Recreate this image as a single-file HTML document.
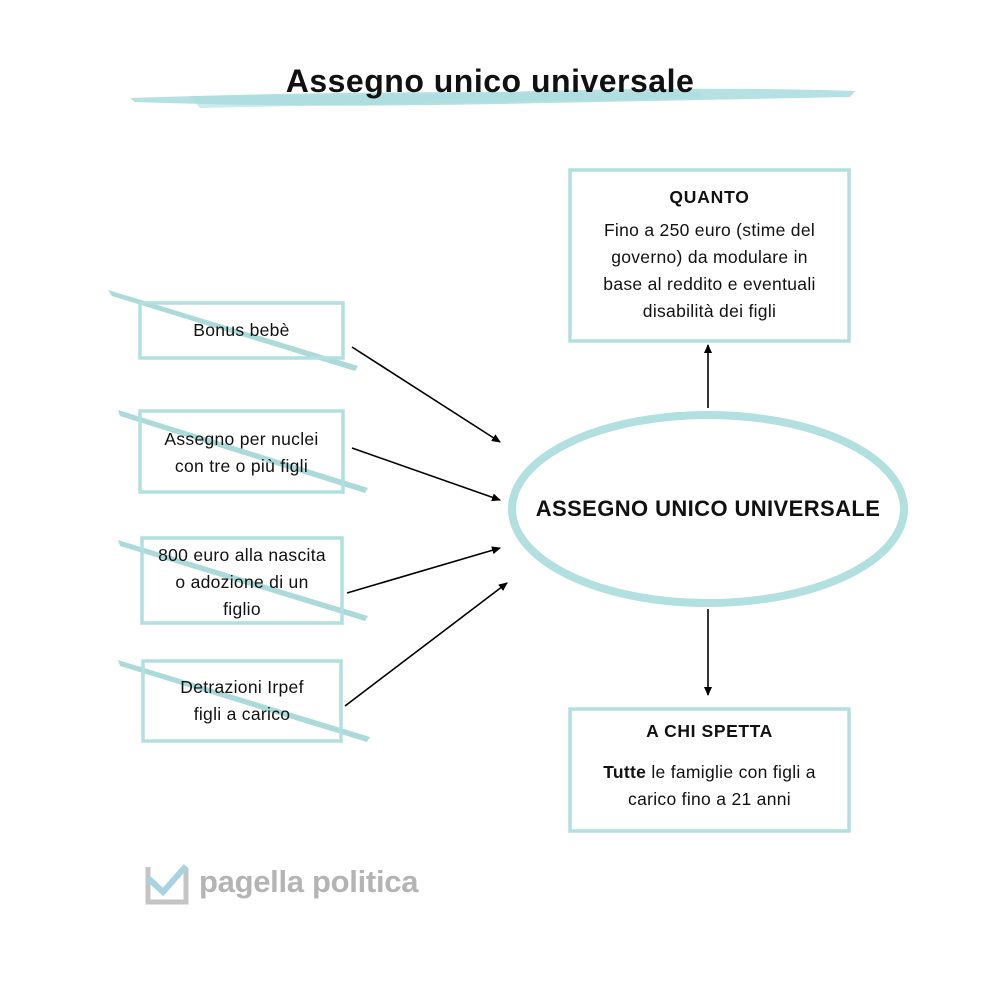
<!DOCTYPE html>
<html><head><meta charset="utf-8"><style>
body{margin:0;background:#fff;}
.w{position:relative;width:1000px;height:1004px;font-family:"Liberation Sans",sans-serif;overflow:hidden}
.t{position:absolute;color:#111;text-align:center;font-size:17.5px;line-height:27px;letter-spacing:0.3px}
</style></head><body><div class="w">
<svg width="1000" height="1004" style="position:absolute;left:0;top:0">
<defs><marker id="a" markerWidth="10" markerHeight="10" refX="8" refY="5" orient="auto" markerUnits="userSpaceOnUse"><path d="M0,1 L9,5 L0,9 z" fill="#000"/></marker></defs>
<path d="M130,98 Q300,92 500,92 Q700,86 855,91 L850,97 Q700,100 500,104 Q300,108 135,102 z" fill="#a9dcdd" opacity="0.85"/>
<path d="M190,96 L700,92 L700,98 L200,108 z" fill="#a9dcdd" opacity="0.6"/>
<g fill="#9ed3d4" opacity="0.85">
<path d="M108,290 L358,366 L355,371 L112,296 z"/>
<path d="M118,410 L368,488 L365,493 L120,416 z"/>
<path d="M118,540 L368,616 L365,621 L120,546 z"/>
<path d="M118,660 L370,737 L367,742 L120,666 z"/>
</g>
<g fill="none" stroke="#b2dfe0" stroke-width="3.5">
<rect x="140" y="303" width="203" height="55"/>
<rect x="140" y="411" width="203" height="81"/>
<rect x="142" y="538" width="200" height="85"/>
<rect x="143" y="661" width="198" height="80"/>
<rect x="570" y="170" width="279" height="171"/>
<rect x="570" y="709" width="279" height="122"/>
</g>
<ellipse cx="708" cy="509" rx="196" ry="94" fill="none" stroke="#b2dfe0" stroke-width="8"/>
<g stroke="#000" stroke-width="1.6" marker-end="url(#a)">
<line x1="352" y1="347" x2="500" y2="442"/>
<line x1="352" y1="448" x2="500" y2="500"/>
<line x1="347" y1="593" x2="500" y2="548"/>
<line x1="345" y1="706" x2="507" y2="583"/>
<line x1="708" y1="408" x2="708" y2="345"/>
<line x1="708" y1="609" x2="708" y2="695"/>
</g>
<path d="M148,867 L148,902 L186,902 L186,868" fill="none" stroke="#c4c4c4" stroke-width="5"/>
<path d="M148,878 L163,892 L186,866" fill="none" stroke="#a8d3e3" stroke-width="6"/>
</svg>
<div class="t" style="left:0;width:980px;top:61px;font-size:32px;font-weight:bold;line-height:40px;letter-spacing:0.5px">Assegno unico universale</div>
<div class="t" style="left:140px;width:203px;top:317px">Bonus bebè</div>
<div class="t" style="left:135px;width:213px;top:426px">Assegno per nuclei<br>con tre o più figli</div>
<div class="t" style="left:132px;width:220px;top:542px">800 euro alla nascita<br>o adozione di un<br>figlio</div>
<div class="t" style="left:143px;width:198px;top:674px">Detrazioni Irpef<br>figli a carico</div>
<div class="t" style="left:570px;width:279px;top:184px;font-weight:bold;letter-spacing:0.8px">QUANTO</div>
<div class="t" style="left:570px;width:279px;top:217px">Fino a 250 euro (stime del<br>governo) da modulare in<br>base al reddito e eventuali<br>disabilità dei figli</div>
<div class="t" style="left:500px;width:416px;top:494px;font-size:22px;font-weight:bold;line-height:30px;letter-spacing:0.4px">ASSEGNO UNICO UNIVERSALE</div>
<div class="t" style="left:570px;width:279px;top:718px;font-weight:bold;letter-spacing:0.6px">A CHI SPETTA</div>
<div class="t" style="left:570px;width:279px;top:759px"><b>Tutte</b> le famiglie con figli a<br>carico fino a 21 anni</div>
<div class="t" style="left:199px;top:863px;font-size:31px;line-height:38px;color:#b4b4b4;font-weight:bold;text-align:left;letter-spacing:-0.3px">pagella politica</div>
</div></body></html>
